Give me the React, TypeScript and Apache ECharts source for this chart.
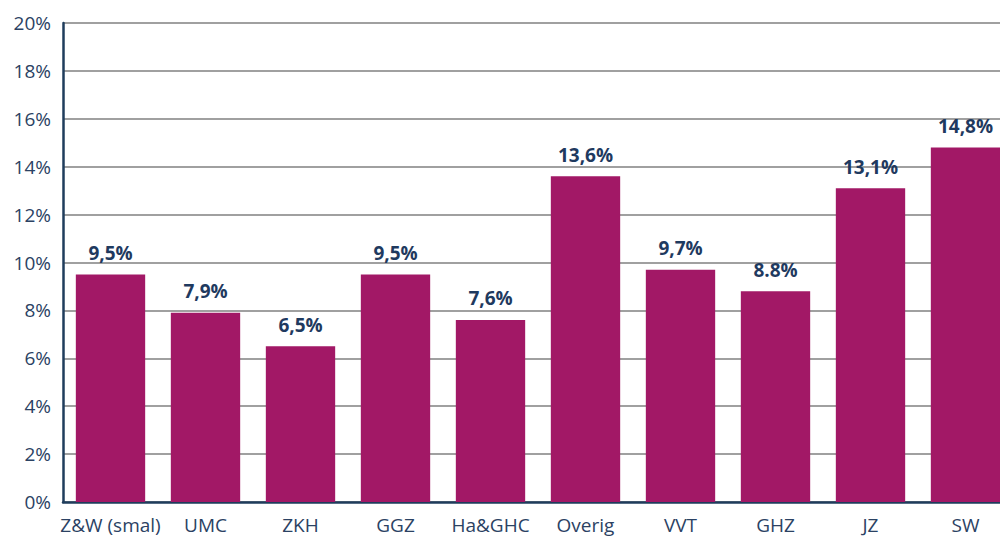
import React, { useEffect, useRef } from "react";
import * as echarts from "echarts";

const categories = ["Z&W (smal)", "UMC", "ZKH", "GGZ", "Ha&GHC", "Overig", "VVT", "GHZ", "JZ", "SW"];
const values = [9.5, 7.9, 6.5, 9.5, 7.6, 13.6, 9.7, 8.8, 13.1, 14.8];
const valueLabels = ["9,5%", "7,9%", "6,5%", "9,5%", "7,6%", "13,6%", "9,7%", "8.8%", "13,1%", "14,8%"];

export default function App() {
  const ref = useRef<HTMLDivElement>(null);
  useEffect(() => {
    document.body.style.margin = "0";
    document.body.style.overflow = "hidden";
    const chart = echarts.init(ref.current!, undefined, { renderer: "svg" });
    const font = "'Open Sans', 'Noto Sans', sans-serif";
    chart.setOption({
      animation: false,
      grid: { left: 63, right: 0, top: 23, bottom: 38 },
      xAxis: {
        type: "category",
        data: categories,
        axisLine: { lineStyle: { color: "#1f3d5c", width: 2.5 } },
        axisTick: { show: false },
        axisLabel: { color: "#2b4263", fontSize: 19, margin: 13, fontFamily: font, interval: 0 },
      },
      yAxis: {
        type: "value",
        min: 0,
        max: 20,
        interval: 2,
        axisLine: { show: true, lineStyle: { color: "#1f3d5c", width: 2.5 } },
        axisTick: { show: false },
        axisLabel: { color: "#2b4263", fontSize: 19, margin: 12, fontFamily: font, formatter: "{value}%" },
        splitLine: { lineStyle: { color: "#808080", width: 1.5 } },
      },
      series: [
        {
          type: "bar",
          data: values,
          barCategoryGap: "27%",
          itemStyle: { color: "#a21866" },
          label: {
            show: true,
            position: "top",
            distance: 12,
            color: "#1f3a5f",
            fontSize: 19,
            fontWeight: "bold",
            fontFamily: font,
            formatter: (p: any) => valueLabels[p.dataIndex],
          },
        },
      ],
    });
    return () => chart.dispose();
  }, []);
  return (
    <div style={{ width: 1000, height: 540, overflow: "hidden", position: "relative" }}>
      <div ref={ref} style={{ width: 1013, height: 540, position: "absolute", left: 0, top: 0 }} />
    </div>
  );
}
